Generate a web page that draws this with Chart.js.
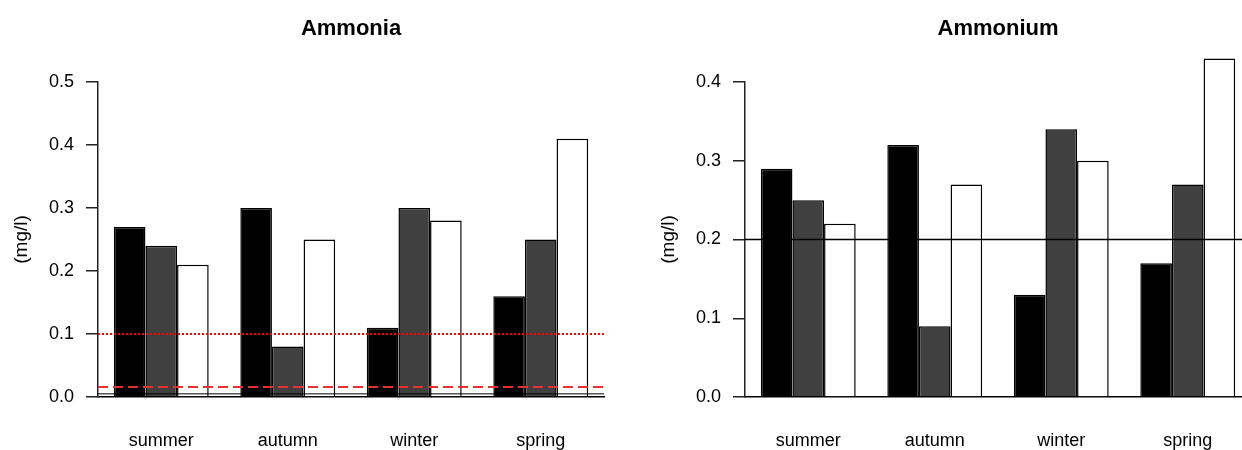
<!DOCTYPE html>
<html>
<head>
<meta charset="utf-8">
<script src="https://cdn.jsdelivr.net/npm/chart.js@4.4.1/dist/chart.umd.min.js"></script>
<style>
  html, body { margin: 0; padding: 0; background: #fff; overflow: hidden; width: 1242px; height: 450px; }
  .panel { position: absolute; top: 0; width: 621px; height: 450px; }
  #left { left: 0; }
  #right { left: 647px; }
</style>
</head>
<body>
<div class="panel" id="left"><canvas id="ammonia" width="621" height="450"></canvas></div>
<div class="panel" id="right"><canvas id="ammonium" width="621" height="450"></canvas></div>
<script>
// Estações (categorias)
const seasons = ['summer', 'autumn', 'winter', 'spring'];

// Ammonia (mg/l) - três séries por estação
const ammoniaBlack = [0.27, 0.30, 0.11, 0.16];
const ammoniaGray = [0.24, 0.08, 0.30, 0.25];
const ammoniaWhite = [0.21, 0.25, 0.28, 0.41];
const ammoniaTicks = [0, 0.1, 0.2, 0.3, 0.4, 0.5];
const ammoniaLimits = [0.1, 0.016, 0.005];

// Ammonium (mg/l)
const ammoniumBlack = [0.29, 0.32, 0.13, 0.17];
const ammoniumGray = [0.25, 0.09, 0.34, 0.27];
const ammoniumWhite = [0.22, 0.27, 0.30, 0.43];
const ammoniumTicks = [0, 0.1, 0.2, 0.3, 0.4];
const ammoniumLimits = [0.2];

Chart.defaults.font.family = "'Liberation Sans', Arial, sans-serif";
Chart.defaults.color = '#000';

const ammoniaLineStyles = [
    { color: '#ff0000', width: 2, dash: [2, 2] },
    { color: '#e83030', width: 2, dash: [10, 5] },
    { color: '#000000', width: 1, dash: [] }
];
const ammoniumLineStyles = [
    { color: '#000000', width: 1.5, dash: [] }
];

/**
 * Desenha as linhas de referência horizontais sobre as barras.
 */
const limitLines = {
    id: 'limitLines',
    afterDatasetsDraw(chart, args, opts) {
        const { ctx, chartArea, scales } = chart;
        (opts.values || []).forEach((v, i) => {
            const st = opts.styles[i];
            const y = scales.y.getPixelForValue(v);
            ctx.save();
            ctx.strokeStyle = st.color;
            ctx.lineWidth = st.width;
            ctx.setLineDash(st.dash);
            ctx.beginPath();
            ctx.moveTo(chartArea.left, y);
            ctx.lineTo(chartArea.right, y);
            ctx.stroke();
            ctx.restore();
        });
    }
};

function makeChart(canvasId, title, black, gray, white, ticks, limits, styles) {
    const ctx = document.getElementById(canvasId).getContext('2d');
    const bar = (data, fill) => ({
        data: data,
        backgroundColor: fill,
        borderColor: '#000',
        borderWidth: 1.5,
        clip: false
    });

    return new Chart(ctx, {
        type: 'bar',
        data: {
            labels: seasons,
            datasets: [
                bar(black, '#000000'),
                bar(gray, '#404040'),
                bar(white, '#ffffff')
            ]
        },
        options: {
            responsive: false,
            animation: false,
            layout: { padding: { left: 0, right: 17, top: 0, bottom: 0 } },
            datasets: { bar: { categoryPercentage: 0.75, barPercentage: 1 } },
            plugins: {
                legend: { display: false },
                tooltip: { enabled: false },
                title: {
                    display: true,
                    text: title,
                    fullSize: false,
                    color: '#000',
                    font: { size: 22, weight: 'bold' },
                    padding: { top: 16, bottom: 39.6 }
                },
                limitLines: { values: limits, styles: styles }
            },
            scales: {
                x: {
                    type: 'category',
                    grid: { display: false, drawTicks: false },
                    border: { display: true, color: '#000', width: 1.5 },
                    ticks: { font: { size: 18 }, color: '#000', padding: 33 },
                    afterFit: s => { s.height = 53; }
                },
                y: {
                    type: 'linear',
                    min: 0,
                    max: ticks[ticks.length - 1],
                    afterBuildTicks: s => { s.ticks = ticks.map(v => ({ value: v })); },
                    ticks: {
                        font: { size: 18 },
                        color: '#000',
                        padding: 12,
                        callback: v => Number(v).toFixed(1)
                    },
                    grid: { drawOnChartArea: false, drawTicks: true, tickLength: 12, color: '#222', lineWidth: 1.5 },
                    border: { display: true, color: '#222', width: 1.5 },
                    title: {
                        display: true,
                        text: '(mg/l)',
                        color: '#000',
                        font: { size: 19 },
                        padding: { top: 10, bottom: 0 }
                    },
                    afterFit: s => { s.width = 98; }
                }
            }
        },
        plugins: [limitLines]
    });
}

makeChart('ammonia', 'Ammonia', ammoniaBlack, ammoniaGray, ammoniaWhite,
    ammoniaTicks, ammoniaLimits, ammoniaLineStyles);
makeChart('ammonium', 'Ammonium', ammoniumBlack, ammoniumGray, ammoniumWhite,
    ammoniumTicks, ammoniumLimits, ammoniumLineStyles);
</script>
</body>
</html>
